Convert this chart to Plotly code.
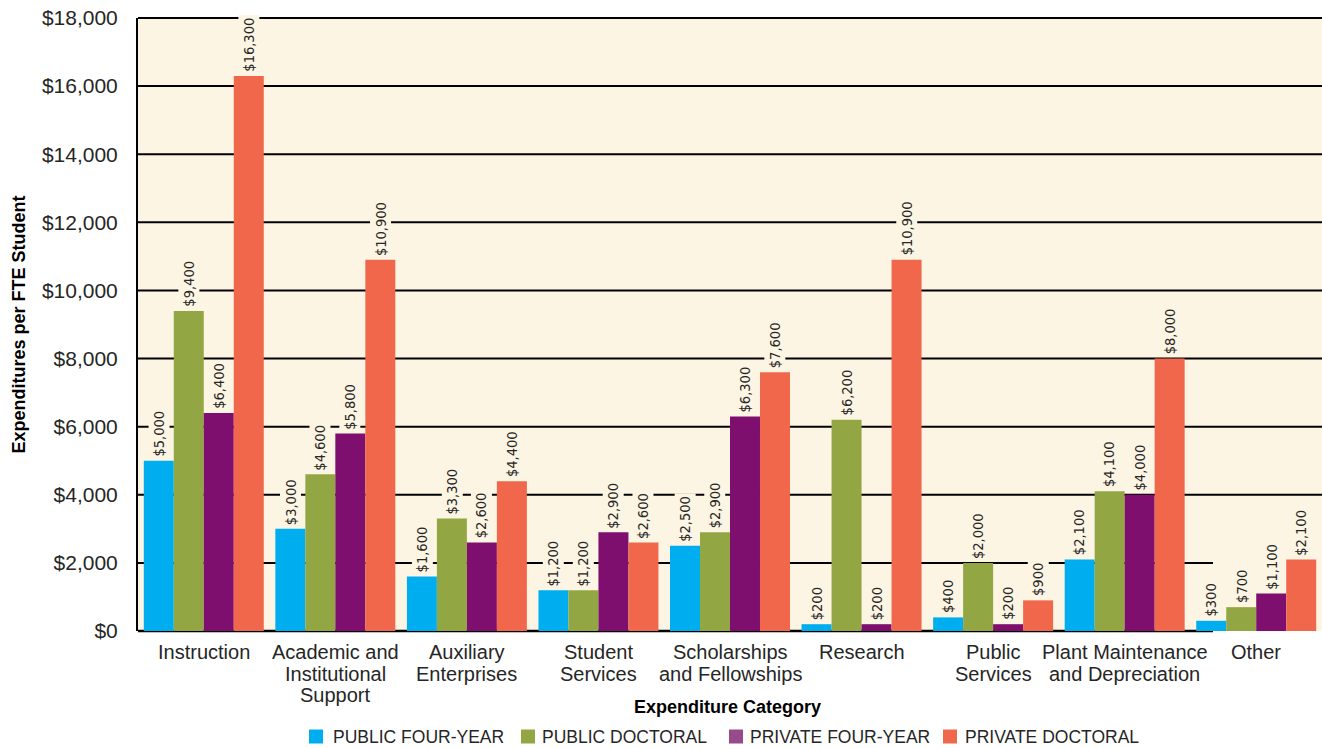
import plotly.graph_objects as go

# category names, one entry per line of the axis label
categories = [
    "Instruction",
    "Academic and Institutional Support",
    "Auxiliary Enterprises",
    "Student Services",
    "Scholarships and Fellowships",
    "Research",
    "Public Services",
    "Plant Maintenance and Depreciation",
    "Other",
]
category_lines = [
    ["Instruction"],
    ["Academic and", "Institutional", "Support"],
    ["Auxiliary", "Enterprises"],
    ["Student", "Services"],
    ["Scholarships", "and Fellowships"],
    ["Research"],
    ["Public", "Services"],
    ["Plant Maintenance", "and Depreciation"],
    ["Other"],
]

series_names = ["PUBLIC FOUR-YEAR", "PUBLIC DOCTORAL", "PRIVATE FOUR-YEAR", "PRIVATE DOCTORAL"]
public_four_year = [5000, 3000, 1600, 1200, 2500, 200, 400, 2100, 300]
public_doctoral = [9400, 4600, 3300, 1200, 2900, 6200, 2000, 4100, 700]
private_four_year = [6400, 5800, 2600, 2900, 6300, 200, 200, 4000, 1100]
private_doctoral = [16300, 10900, 4400, 2600, 7600, 10900, 900, 8000, 2100]

y_ticks = list(range(0, 18001, 2000))
y_tick_labels = ["$" + format(v, ",") for v in y_ticks]

colors = ["#00adee", "#93a644", "#7f0f6e", "#f1674b"]
legend_colors = ["#00adee", "#93a644", "#974b8a", "#f1674b"]
cream = "#fdf5e3"
ink = "#262626"
label_font = "Liberation Sans Narrow, DejaVu Sans Condensed, Arial Narrow, sans-serif"
main_font = "Liberation Sans, Arial, sans-serif"

all_series = [public_four_year, public_doctoral, private_four_year, private_doctoral]

# plot-area geometry in pixels (used to place the legend and frame in paper units)
W, H = 1322, 748
L, R, T, B = 138, 0, 18, 117
plot_w = W - L - R
plot_h = H - T - B


def px_x(px):
    return (px - L) / plot_w


def px_y(py):
    return (H - B - py) / plot_h


fig = go.Figure()
for name, vals, col in zip(series_names, all_series, colors):
    fig.add_trace(go.Bar(
        x=categories, y=vals, name=name,
        marker=dict(color=col, line=dict(width=0)),
        showlegend=False,
    ))

shapes = []
# horizontal gridlines (the $2,000 line stops short of the last group)
for v in y_ticks[1:]:
    x_end = px_x(1213) if v == 2000 else 1
    shapes.append(dict(type="line", xref="paper", yref="y", x0=0, x1=x_end, y0=v, y1=v,
                       line=dict(color="black", width=2), layer="below"))
# top border and baseline
shapes.append(dict(type="line", xref="paper", yref="paper", x0=0, x1=1, y0=1, y1=1,
                   line=dict(color="black", width=2), layer="below"))
shapes.append(dict(type="line", xref="paper", yref="paper", x0=0, x1=px_x(1213), y0=0, y1=0,
                   line=dict(color="black", width=2.5), layer="below"))

annotations = []
# value labels above each bar, boxed in the plot colour so gridlines break behind them
bar_px = 30
for i, vals in enumerate(all_series):
    for cat, v in zip(categories, vals):
        annotations.append(dict(
            x=cat, y=v, xref="x", yref="y",
            text="$" + format(v, ","),
            textangle=-90, showarrow=False,
            xanchor="center", yanchor="bottom",
            xshift=(i - 1.5) * bar_px, yshift=1,
            bgcolor=cream, borderpad=2,
            font=dict(family=label_font, size=14.5, color=ink),
        ))

# category labels under the axis
line_offsets = [-21, -42.5, -64]
for cat, lines in zip(categories, category_lines):
    for k, line in enumerate(lines):
        annotations.append(dict(
            x=cat, xref="x", y=0, yref="paper", text=line, showarrow=False,
            xanchor="center", yanchor="middle", yshift=line_offsets[k],
            font=dict(family=main_font, size=20, color=ink),
        ))

# axis title
annotations.append(dict(
    x=px_x(727), xref="paper", y=0, yref="paper", yshift=-(707 - (H - B)),
    text="<b>Expenditure Category</b>", showarrow=False,
    xanchor="center", yanchor="middle",
    font=dict(family=main_font, size=18, color="black"),
))

# legend: coloured squares with labels
legend_square_x = [309, 521, 729, 943]
legend_text_x = [331, 540, 748, 963]
for name, col, sx, tx in zip(series_names, legend_colors, legend_square_x, legend_text_x):
    shapes.append(dict(type="rect", xref="paper", yref="paper",
                       x0=px_x(sx), x1=px_x(sx + 14), y0=px_y(743.5), y1=px_y(729.5),
                       fillcolor=col, line=dict(width=0)))
    annotations.append(dict(
        x=px_x(tx), xref="paper", y=px_y(737), yref="paper", text=name,
        showarrow=False, xanchor="left", yanchor="middle",
        font=dict(family=main_font, size=17.5, color=ink),
    ))

fig.update_layout(
    width=W, height=H,
    margin=dict(l=L, r=R, t=T, b=B),
    paper_bgcolor="white", plot_bgcolor=cream,
    barmode="group", bargap=0.088, bargroupgap=0,
    font=dict(family=main_font, color=ink),
    shapes=shapes, annotations=annotations,
    showlegend=False,
)

fig.update_xaxes(
    showgrid=False, showline=False, zeroline=False,
    showticklabels=False, ticks="",
)
fig.update_yaxes(
    range=[0, 18000], tickvals=y_ticks, ticktext=y_tick_labels,
    showgrid=False, zeroline=False,
    showline=True, linecolor="black", linewidth=2,
    ticks="", ticklabelstandoff=14,
    tickfont=dict(size=21, color=ink),
    title=dict(text="<b>Expenditures per FTE Student</b>", font=dict(size=18, color="black"), standoff=12),
)

fig.write_html("out.html")
